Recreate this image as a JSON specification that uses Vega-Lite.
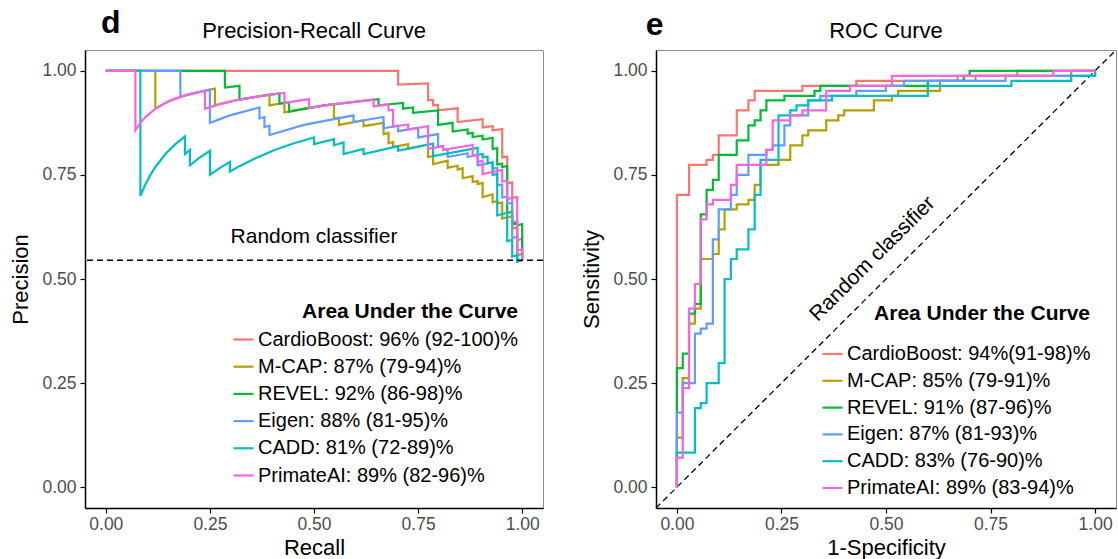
{
  "$schema": "https://vega.github.io/schema/vega-lite/v6.json",
  "background": "white",
  "padding": {"left": 9, "top": 6, "right": 0, "bottom": 0},
  "config": {
    "font": "Liberation Sans",
    "view": {"stroke": "#8c8c8c", "strokeWidth": 1},
    "axis": {
      "grid": false,
      "domainColor": "#000000",
      "domainWidth": 1.5,
      "tickColor": "#000000",
      "tickSize": 5,
      "tickWidth": 1.2,
      "labelColor": "#4d4d4d",
      "labelFontSize": 17.5,
      "labelPadding": 4,
      "titleFontSize": 22,
      "titleFontWeight": "normal",
      "titleColor": "#000000",
      "titlePadding": 9
    },
    "axisX": {"labelPadding": 2, "titlePadding": 5},
    "legend": {
      "orient": "none",
      "padding": 0,
      "titleFontSize": 21,
      "titleFontWeight": "bold",
      "titleColor": "#000000",
      "titleAnchor": "end",
      "titleLimit": 0,
      "labelLimit": 0,
      "labelFontSize": 20,
      "labelColor": "#000000",
      "symbolType": "stroke",
      "symbolSize": 400,
      "symbolStrokeWidth": 2.2,
      "labelOffset": 3
    }
  },
  "datasets": {
    "pr": [
      {"m":"CB","x":0,"y":1},{"m":"CB","x":0.702,"y":1},{"m":"CB","x":0.702,"y":0.967},{"m":"CB","x":0.774,"y":0.970},{"m":"CB","x":0.774,"y":0.929},{"m":"CB","x":0.786,"y":0.930},{"m":"CB","x":0.786,"y":0.917},{"m":"CB","x":0.798,"y":0.918},{"m":"CB","x":0.798,"y":0.905},{"m":"CB","x":0.845,"y":0.910},{"m":"CB","x":0.845,"y":0.877},{"m":"CB","x":0.905,"y":0.884},{"m":"CB","x":0.905,"y":0.864},{"m":"CB","x":0.929,"y":0.867},{"m":"CB","x":0.929,"y":0.857},{"m":"CB","x":0.952,"y":0.860},{"m":"CB","x":0.952,"y":0.792},{"m":"CB","x":0.964,"y":0.794},{"m":"CB","x":0.964,"y":0.730},{"m":"CB","x":0.976,"y":0.732},{"m":"CB","x":0.976,"y":0.636},{"m":"CB","x":0.988,"y":0.638},{"m":"CB","x":0.988,"y":0.593},{"m":"CB","x":1,"y":0.596},{"m":"CB","x":1,"y":0.545},

      {"m":"MC","x":0,"y":1},{"m":"MC","x":0.119,"y":1},{"m":"MC","x":0.119,"y":0.909},{"m":"MC","x":0.143,"y":0.923},{"m":"MC","x":0.179,"y":0.9375},{"m":"MC","x":0.214,"y":0.947},{"m":"MC","x":0.262,"y":0.957},{"m":"MC","x":0.262,"y":0.917},{"m":"MC","x":0.310,"y":0.929},{"m":"MC","x":0.393,"y":0.943},{"m":"MC","x":0.393,"y":0.917},{"m":"MC","x":0.429,"y":0.923},{"m":"MC","x":0.429,"y":0.900},{"m":"MC","x":0.476,"y":0.909},{"m":"MC","x":0.548,"y":0.920},{"m":"MC","x":0.548,"y":0.885},{"m":"MC","x":0.560,"y":0.887},{"m":"MC","x":0.560,"y":0.870},{"m":"MC","x":0.619,"y":0.881},{"m":"MC","x":0.619,"y":0.867},{"m":"MC","x":0.667,"y":0.875},{"m":"MC","x":0.667,"y":0.848},{"m":"MC","x":0.679,"y":0.851},{"m":"MC","x":0.679,"y":0.826},{"m":"MC","x":0.690,"y":0.829},{"m":"MC","x":0.690,"y":0.817},{"m":"MC","x":0.726,"y":0.824},{"m":"MC","x":0.726,"y":0.813},{"m":"MC","x":0.774,"y":0.823},{"m":"MC","x":0.774,"y":0.793},{"m":"MC","x":0.786,"y":0.795},{"m":"MC","x":0.786,"y":0.776},{"m":"MC","x":0.821,"y":0.784},{"m":"MC","x":0.821,"y":0.767},{"m":"MC","x":0.845,"y":0.772},{"m":"MC","x":0.845,"y":0.763},{"m":"MC","x":0.857,"y":0.766},{"m":"MC","x":0.857,"y":0.742},{"m":"MC","x":0.881,"y":0.747},{"m":"MC","x":0.881,"y":0.733},{"m":"MC","x":0.893,"y":0.735},{"m":"MC","x":0.893,"y":0.728},{"m":"MC","x":0.905,"y":0.731},{"m":"MC","x":0.905,"y":0.697},{"m":"MC","x":0.929,"y":0.703},{"m":"MC","x":0.929,"y":0.684},{"m":"MC","x":0.940,"y":0.687},{"m":"MC","x":0.940,"y":0.681},{"m":"MC","x":0.952,"y":0.684},{"m":"MC","x":0.952,"y":0.645},{"m":"MC","x":0.976,"y":0.651},{"m":"MC","x":0.976,"y":0.621},{"m":"MC","x":0.988,"y":0.624},{"m":"MC","x":0.988,"y":0.557},{"m":"MC","x":1,"y":0.560},{"m":"MC","x":1,"y":0.545},

      {"m":"RV","x":0,"y":1},{"m":"RV","x":0.286,"y":1},{"m":"RV","x":0.286,"y":0.960},{"m":"RV","x":0.321,"y":0.964},{"m":"RV","x":0.321,"y":0.931},{"m":"RV","x":0.369,"y":0.939},{"m":"RV","x":0.417,"y":0.946},{"m":"RV","x":0.417,"y":0.921},{"m":"RV","x":0.440,"y":0.925},{"m":"RV","x":0.440,"y":0.902},{"m":"RV","x":0.524,"y":0.917},{"m":"RV","x":0.655,"y":0.932},{"m":"RV","x":0.655,"y":0.917},{"m":"RV","x":0.714,"y":0.923},{"m":"RV","x":0.714,"y":0.909},{"m":"RV","x":0.738,"y":0.912},{"m":"RV","x":0.738,"y":0.899},{"m":"RV","x":0.798,"y":0.905},{"m":"RV","x":0.798,"y":0.870},{"m":"RV","x":0.833,"y":0.875},{"m":"RV","x":0.833,"y":0.854},{"m":"RV","x":0.869,"y":0.859},{"m":"RV","x":0.869,"y":0.849},{"m":"RV","x":0.881,"y":0.851},{"m":"RV","x":0.881,"y":0.841},{"m":"RV","x":0.905,"y":0.844},{"m":"RV","x":0.905,"y":0.835},{"m":"RV","x":0.929,"y":0.839},{"m":"RV","x":0.929,"y":0.8125},{"m":"RV","x":0.940,"y":0.814},{"m":"RV","x":0.940,"y":0.775},{"m":"RV","x":0.952,"y":0.777},{"m":"RV","x":0.952,"y":0.769},{"m":"RV","x":0.964,"y":0.771},{"m":"RV","x":0.964,"y":0.659},{"m":"RV","x":0.976,"y":0.661},{"m":"RV","x":0.976,"y":0.631},{"m":"RV","x":0.988,"y":0.634},{"m":"RV","x":0.988,"y":0.629},{"m":"RV","x":1,"y":0.632},{"m":"RV","x":1,"y":0.545},

      {"m":"EG","x":0,"y":1},{"m":"EG","x":0.179,"y":1},{"m":"EG","x":0.179,"y":0.9375},{"m":"EG","x":0.202,"y":0.944},{"m":"EG","x":0.250,"y":0.955},{"m":"EG","x":0.250,"y":0.875},{"m":"EG","x":0.298,"y":0.893},{"m":"EG","x":0.369,"y":0.912},{"m":"EG","x":0.369,"y":0.886},{"m":"EG","x":0.381,"y":0.889},{"m":"EG","x":0.381,"y":0.865},{"m":"EG","x":0.393,"y":0.868},{"m":"EG","x":0.393,"y":0.846},{"m":"EG","x":0.476,"y":0.870},{"m":"EG","x":0.595,"y":0.893},{"m":"EG","x":0.595,"y":0.877},{"m":"EG","x":0.667,"y":0.889},{"m":"EG","x":0.667,"y":0.862},{"m":"EG","x":0.702,"y":0.868},{"m":"EG","x":0.702,"y":0.855},{"m":"EG","x":0.750,"y":0.863},{"m":"EG","x":0.750,"y":0.840},{"m":"EG","x":0.798,"y":0.848},{"m":"EG","x":0.798,"y":0.817},{"m":"EG","x":0.810,"y":0.819},{"m":"EG","x":0.810,"y":0.810},{"m":"EG","x":0.821,"y":0.812},{"m":"EG","x":0.821,"y":0.793},{"m":"EG","x":0.869,"y":0.802},{"m":"EG","x":0.869,"y":0.793},{"m":"EG","x":0.893,"y":0.798},{"m":"EG","x":0.893,"y":0.773},{"m":"EG","x":0.929,"y":0.780},{"m":"EG","x":0.929,"y":0.765},{"m":"EG","x":0.940,"y":0.767},{"m":"EG","x":0.940,"y":0.725},{"m":"EG","x":0.952,"y":0.727},{"m":"EG","x":0.952,"y":0.696},{"m":"EG","x":0.964,"y":0.698},{"m":"EG","x":0.964,"y":0.681},{"m":"EG","x":0.976,"y":0.683},{"m":"EG","x":0.976,"y":0.599},{"m":"EG","x":0.988,"y":0.601},{"m":"EG","x":0.988,"y":0.542},{"m":"EG","x":1,"y":0.545},

      {"m":"CA","x":0,"y":1},{"m":"CA","x":0.083,"y":1},{"m":"CA","x":0.083,"y":0.700},{"m":"CA","x":0.095,"y":0.727},{"m":"CA","x":0.107,"y":0.750},{"m":"CA","x":0.119,"y":0.769},{"m":"CA","x":0.143,"y":0.800},{"m":"CA","x":0.167,"y":0.824},{"m":"CA","x":0.190,"y":0.842},{"m":"CA","x":0.190,"y":0.800},{"m":"CA","x":0.202,"y":0.810},{"m":"CA","x":0.202,"y":0.773},{"m":"CA","x":0.226,"y":0.792},{"m":"CA","x":0.250,"y":0.808},{"m":"CA","x":0.250,"y":0.750},{"m":"CA","x":0.274,"y":0.767},{"m":"CA","x":0.298,"y":0.781},{"m":"CA","x":0.298,"y":0.758},{"m":"CA","x":0.321,"y":0.771},{"m":"CA","x":0.357,"y":0.789},{"m":"CA","x":0.405,"y":0.810},{"m":"CA","x":0.452,"y":0.826},{"m":"CA","x":0.500,"y":0.840},{"m":"CA","x":0.500,"y":0.824},{"m":"CA","x":0.548,"y":0.836},{"m":"CA","x":0.548,"y":0.821},{"m":"CA","x":0.571,"y":0.828},{"m":"CA","x":0.571,"y":0.800},{"m":"CA","x":0.619,"y":0.8125},{"m":"CA","x":0.619,"y":0.800},{"m":"CA","x":0.702,"y":0.819},{"m":"CA","x":0.702,"y":0.808},{"m":"CA","x":0.786,"y":0.825},{"m":"CA","x":0.786,"y":0.795},{"m":"CA","x":0.893,"y":0.815},{"m":"CA","x":0.893,"y":0.798},{"m":"CA","x":0.905,"y":0.800},{"m":"CA","x":0.905,"y":0.792},{"m":"CA","x":0.917,"y":0.794},{"m":"CA","x":0.917,"y":0.778},{"m":"CA","x":0.929,"y":0.780},{"m":"CA","x":0.929,"y":0.750},{"m":"CA","x":0.940,"y":0.752},{"m":"CA","x":0.940,"y":0.653},{"m":"CA","x":0.964,"y":0.659},{"m":"CA","x":0.964,"y":0.591},{"m":"CA","x":0.976,"y":0.594},{"m":"CA","x":0.976,"y":0.554},{"m":"CA","x":0.988,"y":0.557},{"m":"CA","x":0.988,"y":0.542},{"m":"CA","x":1,"y":0.545},

      {"m":"PA","x":0,"y":1},{"m":"PA","x":0.071,"y":1},{"m":"PA","x":0.071,"y":0.857},{"m":"PA","x":0.083,"y":0.875},{"m":"PA","x":0.095,"y":0.889},{"m":"PA","x":0.119,"y":0.909},{"m":"PA","x":0.155,"y":0.929},{"m":"PA","x":0.190,"y":0.941},{"m":"PA","x":0.238,"y":0.952},{"m":"PA","x":0.238,"y":0.909},{"m":"PA","x":0.274,"y":0.920},{"m":"PA","x":0.321,"y":0.931},{"m":"PA","x":0.369,"y":0.939},{"m":"PA","x":0.429,"y":0.947},{"m":"PA","x":0.429,"y":0.923},{"m":"PA","x":0.488,"y":0.932},{"m":"PA","x":0.488,"y":0.911},{"m":"PA","x":0.548,"y":0.920},{"m":"PA","x":0.643,"y":0.931},{"m":"PA","x":0.643,"y":0.915},{"m":"PA","x":0.679,"y":0.919},{"m":"PA","x":0.679,"y":0.905},{"m":"PA","x":0.690,"y":0.906},{"m":"PA","x":0.690,"y":0.866},{"m":"PA","x":0.726,"y":0.871},{"m":"PA","x":0.726,"y":0.859},{"m":"PA","x":0.774,"y":0.867},{"m":"PA","x":0.774,"y":0.8125},{"m":"PA","x":0.810,"y":0.819},{"m":"PA","x":0.810,"y":0.810},{"m":"PA","x":0.881,"y":0.822},{"m":"PA","x":0.881,"y":0.796},{"m":"PA","x":0.893,"y":0.798},{"m":"PA","x":0.893,"y":0.781},{"m":"PA","x":0.905,"y":0.784},{"m":"PA","x":0.905,"y":0.752},{"m":"PA","x":0.952,"y":0.762},{"m":"PA","x":0.952,"y":0.734},{"m":"PA","x":0.964,"y":0.736},{"m":"PA","x":0.964,"y":0.692},{"m":"PA","x":0.988,"y":0.697},{"m":"PA","x":0.988,"y":0.568},{"m":"PA","x":1,"y":0.571},{"m":"PA","x":1,"y":0.545}
    ],
    "roc": [
      {"m":"CB","x":0,"y":0},{"m":"CB","x":0.029,"y":0.702},{"m":"CB","x":0.071,"y":0.774},{"m":"CB","x":0.086,"y":0.786},{"m":"CB","x":0.1,"y":0.798},{"m":"CB","x":0.143,"y":0.845},{"m":"CB","x":0.171,"y":0.905},{"m":"CB","x":0.186,"y":0.929},{"m":"CB","x":0.3,"y":0.952},{"m":"CB","x":0.429,"y":0.964},{"m":"CB","x":0.671,"y":0.976},{"m":"CB","x":0.814,"y":0.988},{"m":"CB","x":1,"y":1},

      {"m":"MC","x":0,"y":0},{"m":"MC","x":0.014,"y":0.119},{"m":"MC","x":0.029,"y":0.262},{"m":"MC","x":0.043,"y":0.393},{"m":"MC","x":0.057,"y":0.429},{"m":"MC","x":0.086,"y":0.548},{"m":"MC","x":0.1,"y":0.560},{"m":"MC","x":0.114,"y":0.619},{"m":"MC","x":0.143,"y":0.667},{"m":"MC","x":0.171,"y":0.679},{"m":"MC","x":0.186,"y":0.690},{"m":"MC","x":0.2,"y":0.726},{"m":"MC","x":0.243,"y":0.774},{"m":"MC","x":0.271,"y":0.786},{"m":"MC","x":0.3,"y":0.821},{"m":"MC","x":0.314,"y":0.845},{"m":"MC","x":0.357,"y":0.857},{"m":"MC","x":0.386,"y":0.881},{"m":"MC","x":0.4,"y":0.893},{"m":"MC","x":0.471,"y":0.905},{"m":"MC","x":0.514,"y":0.929},{"m":"MC","x":0.529,"y":0.940},{"m":"MC","x":0.629,"y":0.952},{"m":"MC","x":0.714,"y":0.976},{"m":"MC","x":0.943,"y":0.988},{"m":"MC","x":1,"y":1},

      {"m":"RV","x":0,"y":0},{"m":"RV","x":0.014,"y":0.286},{"m":"RV","x":0.029,"y":0.321},{"m":"RV","x":0.043,"y":0.417},{"m":"RV","x":0.057,"y":0.440},{"m":"RV","x":0.071,"y":0.655},{"m":"RV","x":0.086,"y":0.714},{"m":"RV","x":0.1,"y":0.738},{"m":"RV","x":0.143,"y":0.798},{"m":"RV","x":0.171,"y":0.833},{"m":"RV","x":0.186,"y":0.869},{"m":"RV","x":0.2,"y":0.881},{"m":"RV","x":0.214,"y":0.905},{"m":"RV","x":0.257,"y":0.929},{"m":"RV","x":0.329,"y":0.940},{"m":"RV","x":0.343,"y":0.952},{"m":"RV","x":0.6,"y":0.964},{"m":"RV","x":0.686,"y":0.976},{"m":"RV","x":0.7,"y":0.988},{"m":"RV","x":1,"y":1},

      {"m":"EG","x":0,"y":0},{"m":"EG","x":0.014,"y":0.179},{"m":"EG","x":0.043,"y":0.250},{"m":"EG","x":0.057,"y":0.369},{"m":"EG","x":0.071,"y":0.381},{"m":"EG","x":0.086,"y":0.393},{"m":"EG","x":0.1,"y":0.595},{"m":"EG","x":0.129,"y":0.667},{"m":"EG","x":0.143,"y":0.702},{"m":"EG","x":0.171,"y":0.750},{"m":"EG","x":0.214,"y":0.798},{"m":"EG","x":0.229,"y":0.810},{"m":"EG","x":0.257,"y":0.821},{"m":"EG","x":0.271,"y":0.869},{"m":"EG","x":0.314,"y":0.893},{"m":"EG","x":0.343,"y":0.929},{"m":"EG","x":0.429,"y":0.940},{"m":"EG","x":0.5,"y":0.952},{"m":"EG","x":0.543,"y":0.964},{"m":"EG","x":0.786,"y":0.976},{"m":"EG","x":1,"y":0.988},{"m":"EG","x":1,"y":1},

      {"m":"CA","x":0,"y":0},{"m":"CA","x":0.043,"y":0.083},{"m":"CA","x":0.057,"y":0.190},{"m":"CA","x":0.071,"y":0.202},{"m":"CA","x":0.1,"y":0.250},{"m":"CA","x":0.114,"y":0.298},{"m":"CA","x":0.129,"y":0.500},{"m":"CA","x":0.143,"y":0.548},{"m":"CA","x":0.171,"y":0.571},{"m":"CA","x":0.186,"y":0.619},{"m":"CA","x":0.2,"y":0.702},{"m":"CA","x":0.243,"y":0.786},{"m":"CA","x":0.271,"y":0.893},{"m":"CA","x":0.286,"y":0.905},{"m":"CA","x":0.314,"y":0.917},{"m":"CA","x":0.371,"y":0.929},{"m":"CA","x":0.6,"y":0.940},{"m":"CA","x":0.8,"y":0.964},{"m":"CA","x":0.943,"y":0.976},{"m":"CA","x":1,"y":0.988},{"m":"CA","x":1,"y":1},

      {"m":"PA","x":0,"y":0},{"m":"PA","x":0.014,"y":0.071},{"m":"PA","x":0.029,"y":0.238},{"m":"PA","x":0.043,"y":0.429},{"m":"PA","x":0.057,"y":0.488},{"m":"PA","x":0.071,"y":0.643},{"m":"PA","x":0.086,"y":0.679},{"m":"PA","x":0.129,"y":0.690},{"m":"PA","x":0.143,"y":0.726},{"m":"PA","x":0.214,"y":0.774},{"m":"PA","x":0.229,"y":0.810},{"m":"PA","x":0.271,"y":0.881},{"m":"PA","x":0.3,"y":0.893},{"m":"PA","x":0.357,"y":0.905},{"m":"PA","x":0.414,"y":0.952},{"m":"PA","x":0.514,"y":0.964},{"m":"PA","x":0.9,"y":0.988},{"m":"PA","x":1,"y":1}
    ]
  },
  "bounds": "flush",
  "spacing": 113,
  "resolve": {"scale": {"color": "independent"}, "legend": {"color": "independent"}},
  "hconcat": [
    {
      "width": 458,
      "height": 458,
      "layer": [
        {
          "data": {"name": "pr"},
          "mark": {"type": "line", "strokeWidth": 2.2, "interpolate": "linear"},
          "encoding": {
            "x": {"field": "x", "type": "quantitative", "scale": {"domain": [-0.05, 1.05], "nice": false, "zero": false}, "axis": {"values": [0, 0.25, 0.5, 0.75, 1], "format": ".2f", "title": "Recall"}},
            "y": {"field": "y", "type": "quantitative", "scale": {"domain": [-0.05, 1.05], "nice": false, "zero": false}, "axis": {"values": [0, 0.25, 0.5, 0.75, 1], "format": ".2f", "title": "Precision"}},
            "color": {
              "field": "m",
              "type": "nominal",
              "scale": {"domain": ["CB", "MC", "RV", "EG", "CA", "PA"], "range": ["#F8766D", "#B79F00", "#00BA38", "#619CFF", "#00BFC4", "#F564E3"]},
              "legend": {
                "title": "Area Under the Curve",
                "legendX": 147,
                "legendY": 251,
                "titlePadding": 6,
                "rowPadding": 5.2,
                "labelExpr": "datum.label == 'CB' ? 'CardioBoost: 96% (92-100)%' : datum.label == 'MC' ? 'M-CAP: 87% (79-94)%' : datum.label == 'RV' ? 'REVEL: 92% (86-98)%' : datum.label == 'EG' ? 'Eigen: 88% (81-95)%' : datum.label == 'CA' ? 'CADD: 81% (72-89)%' : 'PrimateAI: 89% (82-96)%'"
              }
            },
            "order": {"value": null}
          }
        },
        {
          "data": {"values": [{}]},
          "mark": {"type": "rule", "strokeDash": [6, 4], "strokeWidth": 1.3, "color": "#000000"},
          "encoding": {"y": {"datum": 0.545, "type": "quantitative"}}
        },
        {
          "data": {"values": [{}]},
          "mark": {"type": "text", "text": "Random classifier", "fontSize": 21, "baseline": "middle", "align": "center", "color": "#000000"},
          "encoding": {"x": {"datum": 0.5, "type": "quantitative"}, "y": {"datum": 0.6, "type": "quantitative"}}
        },
        {
          "data": {"values": [{}]},
          "mark": {"type": "text", "text": "Precision-Recall Curve", "fontSize": 22, "baseline": "middle", "align": "center", "color": "#000000"},
          "encoding": {"x": {"datum": 0.5, "type": "quantitative"}, "y": {"datum": 1.096, "type": "quantitative"}}
        },
        {
          "data": {"values": [{}]},
          "mark": {"type": "text", "text": "d", "fontSize": 32, "fontWeight": "bold", "baseline": "middle", "align": "center", "color": "#000000"},
          "encoding": {"x": {"datum": 0.012, "type": "quantitative"}, "y": {"datum": 1.115, "type": "quantitative"}}
        }
      ]
    },
    {
      "width": 460,
      "height": 458,
      "layer": [
        {
          "data": {"values": [{}]},
          "mark": {"type": "rule", "strokeDash": [6, 4], "strokeWidth": 1.3, "color": "#000000"},
          "encoding": {
            "x": {"datum": -0.05, "type": "quantitative"},
            "y": {"datum": -0.05, "type": "quantitative"},
            "x2": {"datum": 1.05},
            "y2": {"datum": 1.05}
          }
        },
        {
          "data": {"name": "roc"},
          "mark": {"type": "line", "strokeWidth": 2.2, "interpolate": "step-before"},
          "encoding": {
            "x": {"field": "x", "type": "quantitative", "scale": {"domain": [-0.05, 1.05], "nice": false, "zero": false}, "axis": {"values": [0, 0.25, 0.5, 0.75, 1], "format": ".2f", "title": "1-Specificity"}},
            "y": {"field": "y", "type": "quantitative", "scale": {"domain": [-0.05, 1.05], "nice": false, "zero": false}, "axis": {"values": [0, 0.25, 0.5, 0.75, 1], "format": ".2f", "title": "Sensitivity"}},
            "color": {
              "field": "m",
              "type": "nominal",
              "scale": {"domain": ["CB", "MC", "RV", "EG", "CA", "PA"], "range": ["#F8766D", "#B79F00", "#00BA38", "#619CFF", "#00BFC4", "#F564E3"]},
              "legend": {
                "title": "Area Under the Curve",
                "legendX": 165,
                "legendY": 253,
                "titlePadding": 18.5,
                "rowPadding": 4.8,
                "labelExpr": "datum.label == 'CB' ? 'CardioBoost: 94%(91-98)%' : datum.label == 'MC' ? 'M-CAP: 85% (79-91)%' : datum.label == 'RV' ? 'REVEL: 91% (87-96)%' : datum.label == 'EG' ? 'Eigen: 87% (81-93)%' : datum.label == 'CA' ? 'CADD: 83% (76-90)%' : 'PrimateAI: 89% (83-94)%'"
              }
            },
            "order": {"value": null}
          }
        },
        {
          "data": {"values": [{}]},
          "mark": {"type": "text", "text": "Random classifier", "fontSize": 21, "angle": -45, "baseline": "middle", "align": "center", "color": "#000000"},
          "encoding": {"x": {"datum": 0.468, "type": "quantitative"}, "y": {"datum": 0.548, "type": "quantitative"}}
        },
        {
          "data": {"values": [{}]},
          "mark": {"type": "text", "text": "ROC Curve", "fontSize": 22, "baseline": "middle", "align": "center", "color": "#000000"},
          "encoding": {"x": {"datum": 0.5, "type": "quantitative"}, "y": {"datum": 1.096, "type": "quantitative"}}
        },
        {
          "data": {"values": [{}]},
          "mark": {"type": "text", "text": "e", "fontSize": 32, "fontWeight": "bold", "baseline": "middle", "align": "center", "color": "#000000"},
          "encoding": {"x": {"datum": -0.053, "type": "quantitative"}, "y": {"datum": 1.11, "type": "quantitative"}}
        }
      ]
    }
  ]
}
